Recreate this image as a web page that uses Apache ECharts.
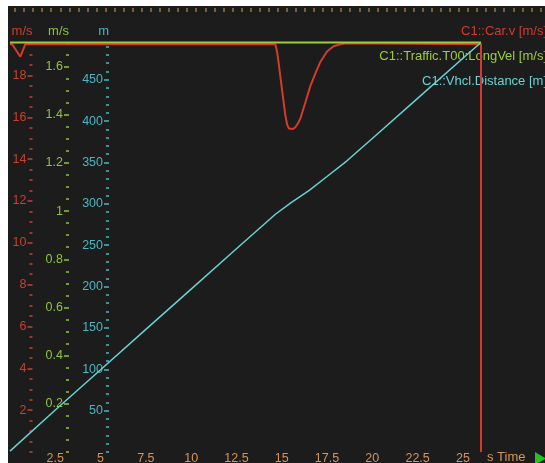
<!DOCTYPE html>
<html>
<head>
<meta charset="utf-8">
<script src="https://cdn.jsdelivr.net/npm/echarts@6/dist/echarts.min.js"></script>
<style>
  html, body { margin: 0; padding: 0; background: #1c1c1c; }
  #chart { width: 545px; height: 463px; }
</style>
</head>
<body>
<div id="chart"></div>
<script>
// C1::Car.v [m/s] over time [s]
const timeCar  = [0, 0.12, 0.57, 0.85, 14.65, 14.75, 14.83, 15.02, 15.2, 15.3, 15.4, 15.5, 15.62, 15.75, 15.9, 16.03, 16.3, 16.58, 16.86, 17.13, 17.5, 17.86, 18.23, 18.6, 26, 26];
const carSpeed = [19.5, 19.5, 18.9, 19.5, 19.5, 19.1, 18.6, 17.3, 16.1, 15.65, 15.47, 15.42, 15.44, 15.53, 15.72, 15.95, 16.7, 17.5, 18.1, 18.65, 19.15, 19.4, 19.5, 19.55, 19.5, 0];

// C1::Traffic.T00:LongVel [m/s]
const timeTraffic    = [0, 26];
const trafficLongVel = [1.7, 1.7];

// C1::Vhcl.Distance [m]
const timeDist     = [0, 2.5, 5, 7.5, 10, 12.5, 14.65, 15.5, 16.5, 17.5, 18.6, 20, 22.5, 25, 26];
const vhclDistance = [1, 50.8, 99.4, 148.2, 196.9, 245.7, 287.4, 301, 316, 333, 352, 379, 427.5, 476, 495];

// Tick labels
const timeLabels     = [2.5, 5, 7.5, 10, 12.5, 15, 17.5, 20, 22.5, 25];
const speedLabels    = [2, 4, 6, 8, 10, 12, 14, 16, 18];
const longVelLabels  = [0.2, 0.4, 0.6, 0.8, 1, 1.2, 1.4, 1.6];
const distanceLabels = [50, 100, 150, 200, 250, 300, 350, 400, 450];

// Minor tick steps for each scale
function steps(from, to, step) {
  const out = [];
  const n = Math.round((to - from) / step);
  for (let i = 0; i <= n; i++) out.push(+(from + i * step).toFixed(4));
  return out;
}
const speedMinor    = steps(0, 19.5, 0.5);
const longVelMinor  = steps(0, 1.7, 0.05);
const distanceMinor = steps(0, 490, 10);
const rulerTicks    = steps(0, 58, 1);

const pair = (xs, ys) => xs.map((x, i) => [x, ys[i]]);

const RED = '#d63a2e', RED_TXT = '#c9402f';
const GREEN = '#9fce36', GREEN_TXT = '#8fc43a';
const CYAN = '#68d2d2', CYAN_TXT = '#4ab6c0';
const TAN = '#d6955a';
const FONT = 'Liberation Sans, Arial, sans-serif';

function valueAxis(o) {
  const main = {
    type: 'value', position: 'left', gridIndex: 0,
    min: 0, max: o.max, offset: o.offset,
    name: o.name, nameLocation: 'end', nameGap: 9,
    nameTextStyle: { color: o.txt, fontSize: 13, fontFamily: FONT, align: 'right', verticalAlign: 'middle' },
    axisLine: { show: false },
    splitLine: { show: false },
    axisTick: { show: true, length: 5, customValues: o.labels, lineStyle: { color: o.txt, width: 1.5 } },
    axisLabel: {
      show: true, customValues: o.labels, margin: 6,
      color: o.txt, fontSize: 12.5, fontFamily: FONT,
      formatter: v => String(+(+v).toFixed(2))
    }
  };
  const minor = {
    type: 'value', position: 'left', gridIndex: 0,
    min: 0, max: o.max, offset: o.offset,
    axisLine: { show: false },
    splitLine: { show: false },
    axisTick: { show: true, length: 3, customValues: o.minor, lineStyle: { color: o.txt, width: 1.5 } },
    axisLabel: { show: false }
  };
  return [main, minor];
}

const chart = echarts.init(document.getElementById('chart'), null, { renderer: 'canvas' });

chart.setOption({
  backgroundColor: '#1c1c1c',
  animation: false,
  grid: [
    { left: 10, right: 64, top: 40, bottom: 11, containLabel: false, outerBoundsMode: 'none' },
    { left: 15, right: 0, top: 7, height: 1, containLabel: false, outerBoundsMode: 'none' }
  ],
  xAxis: [
    {
      type: 'value', gridIndex: 0, min: 0, max: 26,
      axisLine: { show: false }, splitLine: { show: false },
      axisTick: { show: false },
      axisLabel: { customValues: timeLabels, margin: 0, color: TAN, fontSize: 12.5, fontFamily: FONT }
    },
    {
      type: 'value', gridIndex: 1, position: 'top', min: 0, max: 58.5,
      axisLine: { show: false }, splitLine: { show: false },
      axisTick: { show: true, inside: true, length: 4, customValues: rulerTicks, lineStyle: { color: '#9a7445', width: 1.5 } },
      axisLabel: { show: false }
    }
  ],
  yAxis: [
    ...valueAxis({ max: 19.7, offset: -22.5, name: 'm/s', txt: RED_TXT, labels: speedLabels, minor: speedMinor }),
    ...valueAxis({ max: 1.71, offset: -59, name: 'm/s', txt: GREEN_TXT, labels: longVelLabels, minor: longVelMinor }),
    ...valueAxis({ max: 498, offset: -99, name: 'm', txt: CYAN_TXT, labels: distanceLabels, minor: distanceMinor }),
    {
      type: 'value', gridIndex: 1, min: 0, max: 1, show: false
    }
  ],
  graphic: [
    { type: 'rect', left: 0, top: 0, shape: { width: 545, height: 6 }, style: { fill: '#ffffff' }, z: 100 },
    { type: 'rect', left: 0, top: 0, shape: { width: 8, height: 463 }, style: { fill: '#ffffff' }, z: 100 },
    { type: 'text', right: -2, top: 25, style: { text: 'C1::Car.v [m/s]', fill: RED, font: '13px ' + FONT } },
    { type: 'text', right: -2, top: 50, style: { text: 'C1::Traffic.T00:LongVel [m/s]', fill: GREEN, font: '13px ' + FONT } },
    { type: 'text', right: -2, top: 75, style: { text: 'C1::Vhcl.Distance [m]', fill: CYAN, font: '13px ' + FONT } },
    { type: 'text', left: 487, top: 451, style: { text: 's Time', fill: TAN, font: '13px ' + FONT } },
    { type: 'polygon', shape: { points: [[535, 452], [546, 458.5], [535, 465]] }, style: { fill: '#22c422' } }
  ],
  series: [
    {
      name: 'C1::Car.v', type: 'line', xAxisIndex: 0, yAxisIndex: 0,
      data: pair(timeCar, carSpeed), showSymbol: false, z: 2,
      lineStyle: { color: RED, width: 2 }
    },
    {
      name: 'C1::Vhcl.Distance', type: 'line', xAxisIndex: 0, yAxisIndex: 4,
      data: pair(timeDist, vhclDistance), showSymbol: false, z: 3,
      lineStyle: { color: CYAN, width: 1.5 }
    },
    {
      name: 'C1::Traffic.T00:LongVel', type: 'line', xAxisIndex: 0, yAxisIndex: 2,
      data: pair(timeTraffic, trafficLongVel), showSymbol: false, z: 4,
      lineStyle: { color: GREEN, width: 2 }
    }
  ]
});
</script>
</body>
</html>
